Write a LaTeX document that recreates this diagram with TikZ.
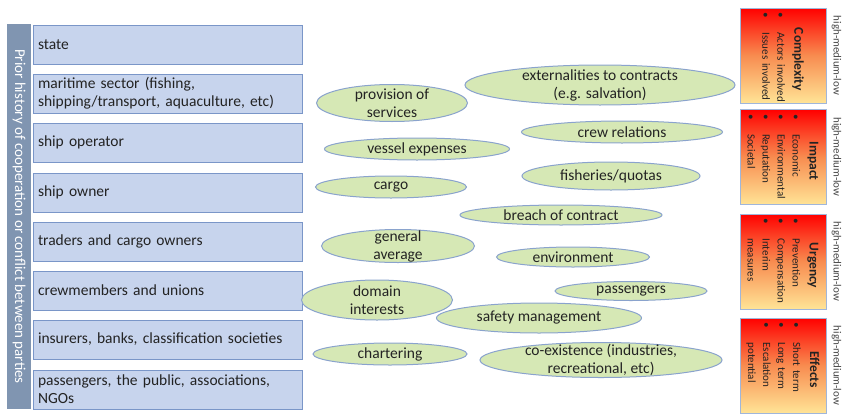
\documentclass[tikz,border=0pt]{standalone}
\usepackage{fontspec}
\setmainfont{Carlito}
\usetikzlibrary{shapes.geometric}
\setlength{\parindent}{0pt}

\definecolor{barblue}{RGB}{128,149,177}
\definecolor{partyfill}{RGB}{199,212,237}
\definecolor{partyline}{RGB}{122,150,200}
\definecolor{issuefill}{RGB}{214,232,181}
\definecolor{issueline}{RGB}{138,163,205}
\definecolor{cardline}{RGB}{160,182,218}
\definecolor{cardmid}{RGB}{248,140,80}
\definecolor{cardlow}{RGB}{255,228,150}
\definecolor{inkgrey}{RGB}{35,35,35}
\definecolor{levelgrey}{RGB}{70,70,70}

% bullet line and heading inside the rotated cards
\newcommand{\cardpt}[1]{\mbox{\makebox[20pt][l]{\textbullet}#1}}
\newcommand{\cardhead}[1]{{\centering\fontsize{13.5}{16}\selectfont\bfseries\hspace*{8pt}#1\par}\vspace{2pt}}

\begin{document}
\begin{tikzpicture}[
    x=1pt, y=-1pt,
    sidebar/.style={rotate=-90, fill=barblue, minimum width=385pt, minimum height=24pt, inner sep=0pt, text=white, font=\fontsize{15}{18}\selectfont},
    party/.style={rectangle, draw=partyline, fill=partyfill, line width=1pt, minimum width=269pt, minimum height=39pt, text width=259pt, inner xsep=5pt, align=left, text=inkgrey, font=\fontsize{15.5}{18}\selectfont},
    issue/.style={ellipse, draw=issueline, fill=issuefill, line width=1pt, inner xsep=0pt, inner ysep=-12pt, align=center, text=inkgrey, font=\fontsize{15.5}{18}\selectfont},
    card/.style={rectangle, draw=cardline, line width=1pt, top color=red, bottom color=cardlow, middle color=cardmid, minimum width=86pt, minimum height=95pt},
    cardtext/.style={rotate=-90, text width=86pt, inner sep=0pt, align=left, text=inkgrey, font=\fontsize{11}{15}\selectfont},
    level/.style={rotate=-90, text=levelgrey, font=\fontsize{11}{13}\selectfont}
]
    \useasboundingbox (0,0) rectangle (845,415);

    % parties involved
    \node[sidebar] (history) at (19, 216.5) {Prior history of cooperation or conflict between parties};

    \node[party] (state) at (167.5, 44.5) {state};
    \node[party] (maritime) at (167.5, 93.5) {maritime sector (fishing,\\shipping/transport, aquaculture, etc)};
    \node[party] (operator) at (167.5, 142.5) {ship operator};
    \node[party] (owner) at (167.5, 192.5) {ship owner};
    \node[party] (traders) at (167.5, 241.5) {traders and cargo owners};
    \node[party] (crew) at (167.5, 290.5) {crewmembers and unions};
    \node[party] (insurers) at (167.5, 339.5) {insurers, banks, classification societies};
    \node[party] (public) at (167.5, 389.5) {passengers, the public, associations,\\NGOs};

    % issues in dispute
    \node[issue, minimum width=151pt, minimum height=37pt] (services) at (392, 103) {provision of\\services};
    \node[issue, minimum width=270pt, minimum height=40pt] (externals) at (600, 85) {externalities to contracts\\(e.g. salvation)};
    \node[issue, minimum width=201pt, minimum height=22pt] (crewrel) at (622, 132) {crew relations};
    \node[issue, minimum width=185pt, minimum height=22pt] (vessel) at (417, 149) {vessel expenses};
    \node[issue, minimum width=178pt, minimum height=28pt] (fisheries) at (611, 176) {fisheries/quotas};
    \node[issue, minimum width=151pt, minimum height=22pt] (cargo) at (391, 187) {cargo};
    \node[issue, minimum width=202pt, minimum height=20pt] (breach) at (561, 215) {breach of contract};
    \node[issue, minimum width=153pt, minimum height=33pt] (average) at (398, 246) {general\\average};
    \node[issue, minimum width=153pt, minimum height=20pt] (environ) at (573, 257) {environment};
    \node[issue, minimum width=151pt, minimum height=40pt] (domain) at (377, 300) {domain\\interests};
    \node[issue, minimum width=152pt, minimum height=19pt] (passengers) at (631, 291) {passengers};
    \node[issue, minimum width=205pt, minimum height=30pt] (safety) at (539, 318) {safety management};
    \node[issue, minimum width=154pt, minimum height=22pt] (charter) at (390, 354) {chartering};
    \node[issue, minimum width=242pt, minimum height=35pt] (coexist) at (601, 360) {co-existence (industries,\\recreational, etc)};

    % assessment cards
    \node[card] (cplx) at (783, 55.5) {};
    \node[card] (impact) at (783, 157) {};
    \node[card] (urgency) at (783, 261.5) {};
    \node[card] (effects) at (783, 365.5) {};

    \node[cardtext] at (cplx.center) {\cardhead{Complexity}
        \cardpt{Actors involved}\\
        \cardpt{Issues involved}};
    \node[cardtext] at (impact.center) {\cardhead{Impact}
        \cardpt{Economic}\\
        \cardpt{Environmental}\\
        \cardpt{Reputation}\\
        \cardpt{Societal}};
    \node[cardtext] at (urgency.center) {\cardhead{Urgency}
        \cardpt{Prevention}\\
        \cardpt{Compensation}\\
        \cardpt{Interim}\\
        \hspace*{20pt}measures};
    \node[cardtext] at (effects.center) {\cardhead{Effects}
        \cardpt{Short term}\\
        \cardpt{Long term}\\
        \cardpt{Escalation}\\
        \hspace*{20pt}potential};

    \node[level] (cplxlvl) at ([xshift=10pt]cplx.east) {high-medium-low};
    \node[level] (impactlvl) at ([xshift=10pt]impact.east) {high-medium-low};
    \node[level] (urgencylvl) at ([xshift=10pt]urgency.east) {high-medium-low};
    \node[level] (effectslvl) at ([xshift=10pt]effects.east) {high-medium-low};
\end{tikzpicture}
\end{document}
